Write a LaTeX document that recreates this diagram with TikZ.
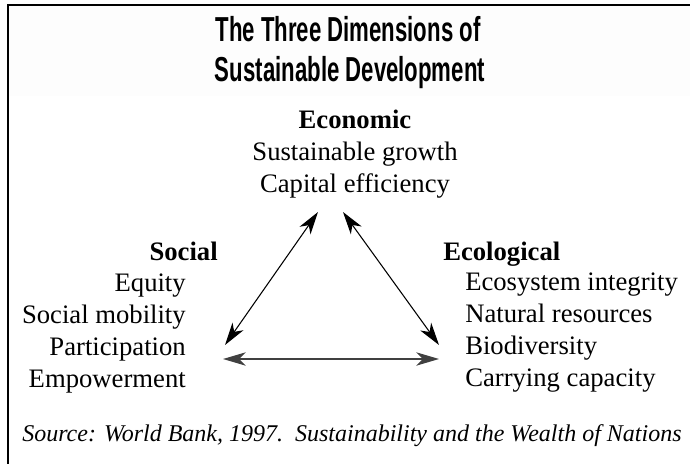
\documentclass[tikz,border=0pt]{standalone}
\usepackage{fontspec}
\setmainfont{Liberation Serif}
\newfontfamily\titlefont[FakeStretch=0.64]{Liberation Sans}
\usetikzlibrary{arrows.meta}

\tikzset{
  dimhead/.style={font=\fontsize{20}{24}\selectfont\bfseries, inner sep=0pt},
  dimlist/.style={font=\fontsize{20}{24}\selectfont, inner sep=0pt},
  linkarrow/.style={line width=0.8pt, {Stealth[length=17pt,width=10pt,inset=5pt]}-{Stealth[length=17pt,width=10pt,inset=5pt]}}
}

\begin{document}
\begin{tikzpicture}[x=0.75pt,y=0.75pt,yscale=-1,xscale=1]
\useasboundingbox (0,0) rectangle (690,464);

%Title band
\fill [black!0.6] (8,5) rectangle (690,96);
\draw [line width=1.5pt] (690,5) -- (8,5) -- (8,464);

% Title
\node (title1) [font=\titlefont\fontsize{26}{30}\selectfont\bfseries, anchor=base, inner sep=0pt] at (348,41) {The Three Dimensions of};
\node (title2) [font=\titlefont\fontsize{26}{30}\selectfont\bfseries, anchor=base, inner sep=0pt] at (350,81) {Sustainable Development};

% Economic
\node (econ) [dimhead, anchor=base] at (355,128) {Economic};
\node (econlist) [dimlist, anchor=base, align=center] at (355,192) {Sustainable growth\\Capital efficiency};

% Social
\node (soc) [dimhead, anchor=base east] at (218,260) {Social};
\node (soclist) [dimlist, anchor=base east, align=right] at (186,387) {Equity\\Social mobility\\Participation\\Empowerment};

% Ecological
\node (ecol) [dimhead, anchor=base west] at (443,260) {Ecological};
\node (ecollist) [dimlist, anchor=base west, align=left] at (465,386) {Ecosystem integrity\\Natural resources\\Biodiversity\\Carrying capacity};

% Arrow ends
\coordinate (econ-l) at (318,212);
\coordinate (econ-r) at (343,212);
\coordinate (soc-t) at (225,345);
\coordinate (soc-r) at (223,359);
\coordinate (ecol-t) at (439,345);
\coordinate (ecol-l) at (439,359);

\draw [linkarrow] (econ-l) -- (soc-t);
\draw [linkarrow] (econ-r) -- (ecol-t);
\draw [linkarrow, line width=1.2pt, draw=black!75, fill=black] (soc-r) -- (ecol-l);

% Source
\node (source) [font=\fontsize{18}{22}\selectfont\itshape, anchor=base west, inner sep=0pt] at (22,441) {Source: World Bank, 1997.\ \ Sustainability and the Wealth of Nations};

\end{tikzpicture}
\end{document}
